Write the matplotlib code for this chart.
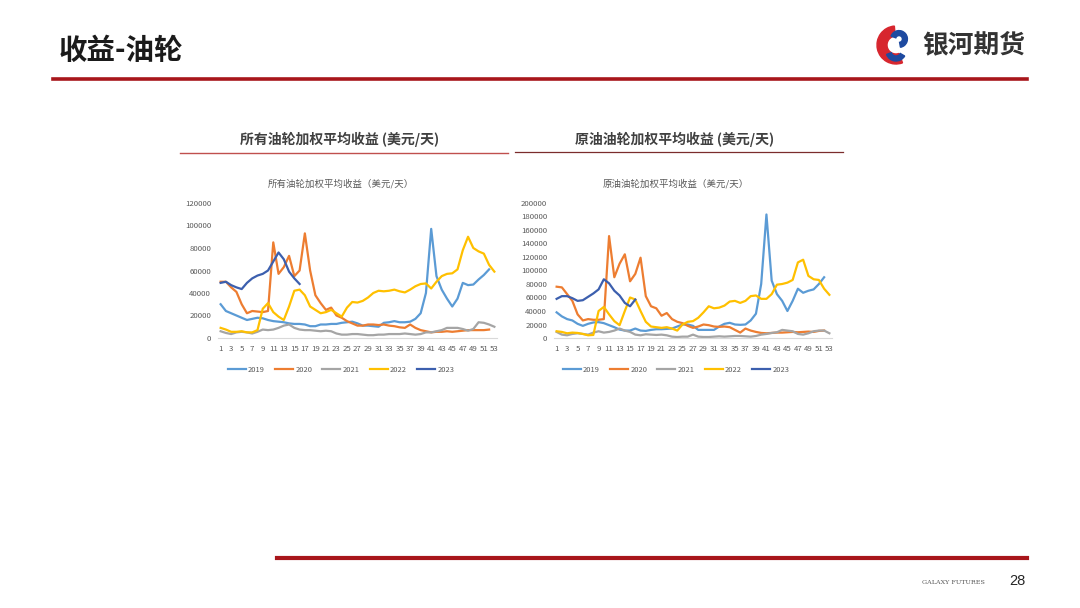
import matplotlib
matplotlib.use('Agg')
import matplotlib.pyplot as plt
from matplotlib.lines import Line2D
from matplotlib.patches import Wedge
import numpy as np

plt.rcParams['font.family'] = ['Noto Sans CJK SC', 'DejaVu Sans']

# week numbers and series labels
years = ['2019', '2020', '2021', '2022', '2023']
colors = ['#5B9BD5', '#ED7D31', '#A5A5A5', '#FFC000', '#3C5FAE']

# all tankers, weighted average earnings (USD/day)
all_2019 = [30000, 24000, 22000, 20000, 18000, 16000, 17000, 18000, 17500, 16000,
            15000, 14500, 14000, 13000, 12500, 12500, 12000, 10500, 10500, 12000,
            12000, 12500, 12500, 13500, 14000, 14500, 13000, 11000, 11000, 10500,
            10000, 13500, 14000, 15000, 14000, 14000, 14500, 17000, 22000, 40000,
            97000, 55000, 43000, 35000, 28000, 35000, 49000, 47000, 47500, 52000,
            56000, 61000]
all_2020 = [50000, 50000, 45000, 41000, 30000, 22000, 24000, 23500, 23000, 24000,
            85000, 57000, 63000, 73000, 55000, 60000, 93000, 60000, 38000, 31000,
            25000, 27000, 20000, 18000, 15000, 13000, 11000, 11000, 12000, 12000,
            11500, 12000, 11000, 10500, 9500, 9000, 12000, 9000, 7000, 6000,
            5000, 5500, 5500, 6000, 5500, 6000, 6500, 7000, 7000, 7000,
            7000, 7500]
all_2021 = [6000, 4500, 3500, 5000, 5500, 5000, 4000, 5500, 7500, 7000,
            7500, 9000, 11000, 12000, 9000, 7500, 7000, 7000, 6500, 6000,
            6500, 6000, 4000, 3000, 3000, 3500, 3500, 3000, 2500, 2500,
            3000, 3000, 3500, 3500, 3500, 4000, 3500, 3000, 3500, 5000,
            5000, 6000, 7000, 9000, 9000, 9000, 8000, 6500, 8000, 14000,
            13500, 12000, 10000]
all_2022 = [9000, 7500, 5500, 5500, 6000, 5000, 5000, 7000, 26000, 31000,
            23000, 19000, 16000, 28000, 42000, 43000, 38000, 28000, 25000, 22000,
            23000, 25000, 22000, 19000, 27000, 32000, 31500, 33000, 36000, 40000,
            42000, 41500, 42000, 43000, 41500, 40500, 43000, 46000, 48000, 48500,
            44000, 50000, 55000, 57000, 57500, 61000, 78000, 90000, 80000, 77000,
            75000, 65000, 59000]
all_2023 = [49000, 50000, 47000, 45000, 43500, 49000, 53000, 55500, 57000, 60000,
            68000, 76000, 70000, 59000, 53000, 48000]

# crude tankers, weighted average earnings (USD/day)
crude_2019 = [38000, 32000, 28000, 26000, 21000, 18000, 21000, 23000, 23500, 22000,
              19000, 16000, 12500, 11000, 11000, 14000, 11000, 10500, 12000, 13000,
              13000, 13500, 14000, 17000, 20000, 20000, 18000, 12000, 12000, 12000,
              12000, 17000, 21000, 22500, 20000, 19500, 20000, 26000, 36000, 80000,
              183000, 85000, 65000, 55000, 40000, 55000, 73000, 67000, 70000, 72000,
              80000, 90000]
crude_2020 = [76000, 75000, 65000, 55000, 35000, 26000, 28000, 27000, 27000, 28000,
              151000, 90000, 110000, 124000, 84000, 95000, 119000, 62000, 47000, 44000,
              33000, 37000, 28000, 24000, 22000, 18000, 15000, 17000, 20000, 19000,
              17000, 16500, 17000, 16000, 12000, 8000, 14000, 11000, 9000, 7500,
              7000, 7500, 8000, 8000, 8500, 9000, 8500, 9000, 9500, 9000,
              10500, 11000]
crude_2021 = [9000, 5000, 4000, 6000, 7000, 6000, 5000, 8000, 10000, 8000,
              9000, 11000, 14000, 11000, 9000, 5000, 4000, 5500, 5000, 4500,
              5000, 4000, 2000, 1500, 2000, 2000, 5000, 2000, 1500, 1500,
              2000, 2500, 2000, 2500, 3000, 3000, 2500, 2000, 3000, 5000,
              6000, 7500, 8500, 12000, 11000, 10000, 6000, 5000, 7000, 10000,
              11000, 11000, 7000]
crude_2022 = [10000, 9000, 7000, 8000, 7500, 6000, 4000, 4500, 40000, 46000,
              35000, 25000, 19000, 40000, 60000, 57000, 40000, 24000, 17000, 16000,
              15000, 16000, 14000, 11000, 20000, 24000, 25000, 30000, 38000, 47000,
              44000, 45000, 48000, 54000, 55000, 52000, 55000, 62000, 63000, 58000,
              58000, 65000, 79000, 80000, 82000, 86000, 112000, 116000, 92000, 87000,
              86000, 73000, 64000]
crude_2023 = [58000, 62000, 62000, 59000, 55000, 56000, 61000, 66000, 72000, 87000,
              81000, 70000, 63000, 52000, 47000, 57000]

W, H = 1080, 608
fig = plt.figure(figsize=(W / 100, H / 100), dpi=100)
fig.patch.set_facecolor('white')

def fx(x):
    return x / W

def fy(y):
    return 1 - y / H

def draw_chart(left, right, ymax, series, title, title_x):
    ax = fig.add_axes([fx(left), fy(338), fx(right - left), fy(203) - fy(338)])
    for vals, c in zip(series, colors):
        wk = np.arange(1, len(vals) + 1)
        ax.plot(wk, vals, color=c, lw=1.6, solid_joinstyle='round')
    ax.set_xlim(0.5, 53.5)
    ax.set_ylim(0, ymax)
    ax.set_xticks(range(1, 54, 2))
    ax.set_yticks(np.arange(0, ymax + 1, 20000))
    ax.set_yticklabels([str(int(v)) for v in np.arange(0, ymax + 1, 20000)])
    for s in ['top', 'right', 'left']:
        ax.spines[s].set_visible(False)
    ax.spines['bottom'].set_color('#D9D9D9')
    ax.spines['bottom'].set_linewidth(0.8)
    ax.tick_params(axis='both', length=0, labelsize=5.6, colors='#595959', pad=5)
    ax.tick_params(axis='x', pad=5)
    ax.patch.set_alpha(0)
    fig.text(fx(title_x), fy(184), title, fontsize=6.8, color='#595959',
             ha='center', va='center')
    handles = [Line2D([0], [0], color=c, lw=1.6) for c in colors]
    fig.legend(handles, years, loc='center', bbox_to_anchor=(fx(title_x), fy(370)),
               ncol=5, frameon=False, fontsize=5.4, handlelength=2.4,
               handletextpad=0.3, columnspacing=1.35, labelcolor='#595959')
    return ax

draw_chart(218, 497, 120000, [all_2019, all_2020, all_2021, all_2022, all_2023],
           '所有油轮加权平均收益（美元/天）', 341)
draw_chart(554, 832, 200000, [crude_2019, crude_2020, crude_2021, crude_2022, crude_2023],
           '原油油轮加权平均收益（美元/天）', 676)

# header titles above each chart
fig.text(fx(340), fy(139), '所有油轮加权平均收益 (美元/天)', fontsize=10,
         color='#404040', ha='center', va='center', fontweight='bold')
fig.text(fx(675), fy(139), '原油油轮加权平均收益 (美元/天)', fontsize=10,
         color='#404040', ha='center', va='center', fontweight='bold')
fig.add_artist(Line2D([fx(180), fx(508)], [fy(152.5), fy(152.5)], color='#C0504D', lw=1.0))
fig.add_artist(Line2D([fx(515), fx(843)], [fy(152), fy(152)], color='#7B2C2C', lw=0.9))

# page header
fig.text(fx(59), fy(51), '收益-油轮', fontsize=20.5, fontweight='bold',
         color='#1A1A1A', ha='left', va='center')
fig.add_artist(Line2D([fx(53), fx(1027)], [fy(79), fy(79)], color='#A8161B', lw=2.6))

# logo
logo_ax = fig.add_axes([fx(876), fy(65), fx(40), fy(25) - fy(65)])
logo_ax.set_xlim(-1, 1)
logo_ax.set_ylim(-1, 1)
logo_ax.set_aspect('equal')
logo_ax.axis('off')
logo_ax.add_patch(Wedge((0, 0), 0.95, 95, 290, width=0.5, color='#D7262E'))
logo_ax.add_patch(Wedge((0.15, 0.3), 0.42, -80, 160, width=0.25, color='#1E4AA0'))
logo_ax.add_patch(Wedge((0.0, -0.3), 0.5, 200, 330, width=0.25, color='#1E4AA0'))
fig.text(fx(922), fy(45), '银河期货', fontsize=18.5, fontweight='bold',
         color='#333333', ha='left', va='center')

# footer
fig.add_artist(Line2D([fx(277), fx(1027)], [fy(558), fy(558)], color='#A8161B', lw=3.0))
fig.text(fx(985), fy(582), 'GALAXY FUTURES', fontsize=4.6, color='#595959',
         ha='right', va='center', family=['DejaVu Serif'])
fig.text(fx(1025), fy(581), '28', fontsize=10.5, color='#262626',
         ha='right', va='center', family=['Liberation Sans'])

fig.savefig('out.png', dpi=100, facecolor='white')
